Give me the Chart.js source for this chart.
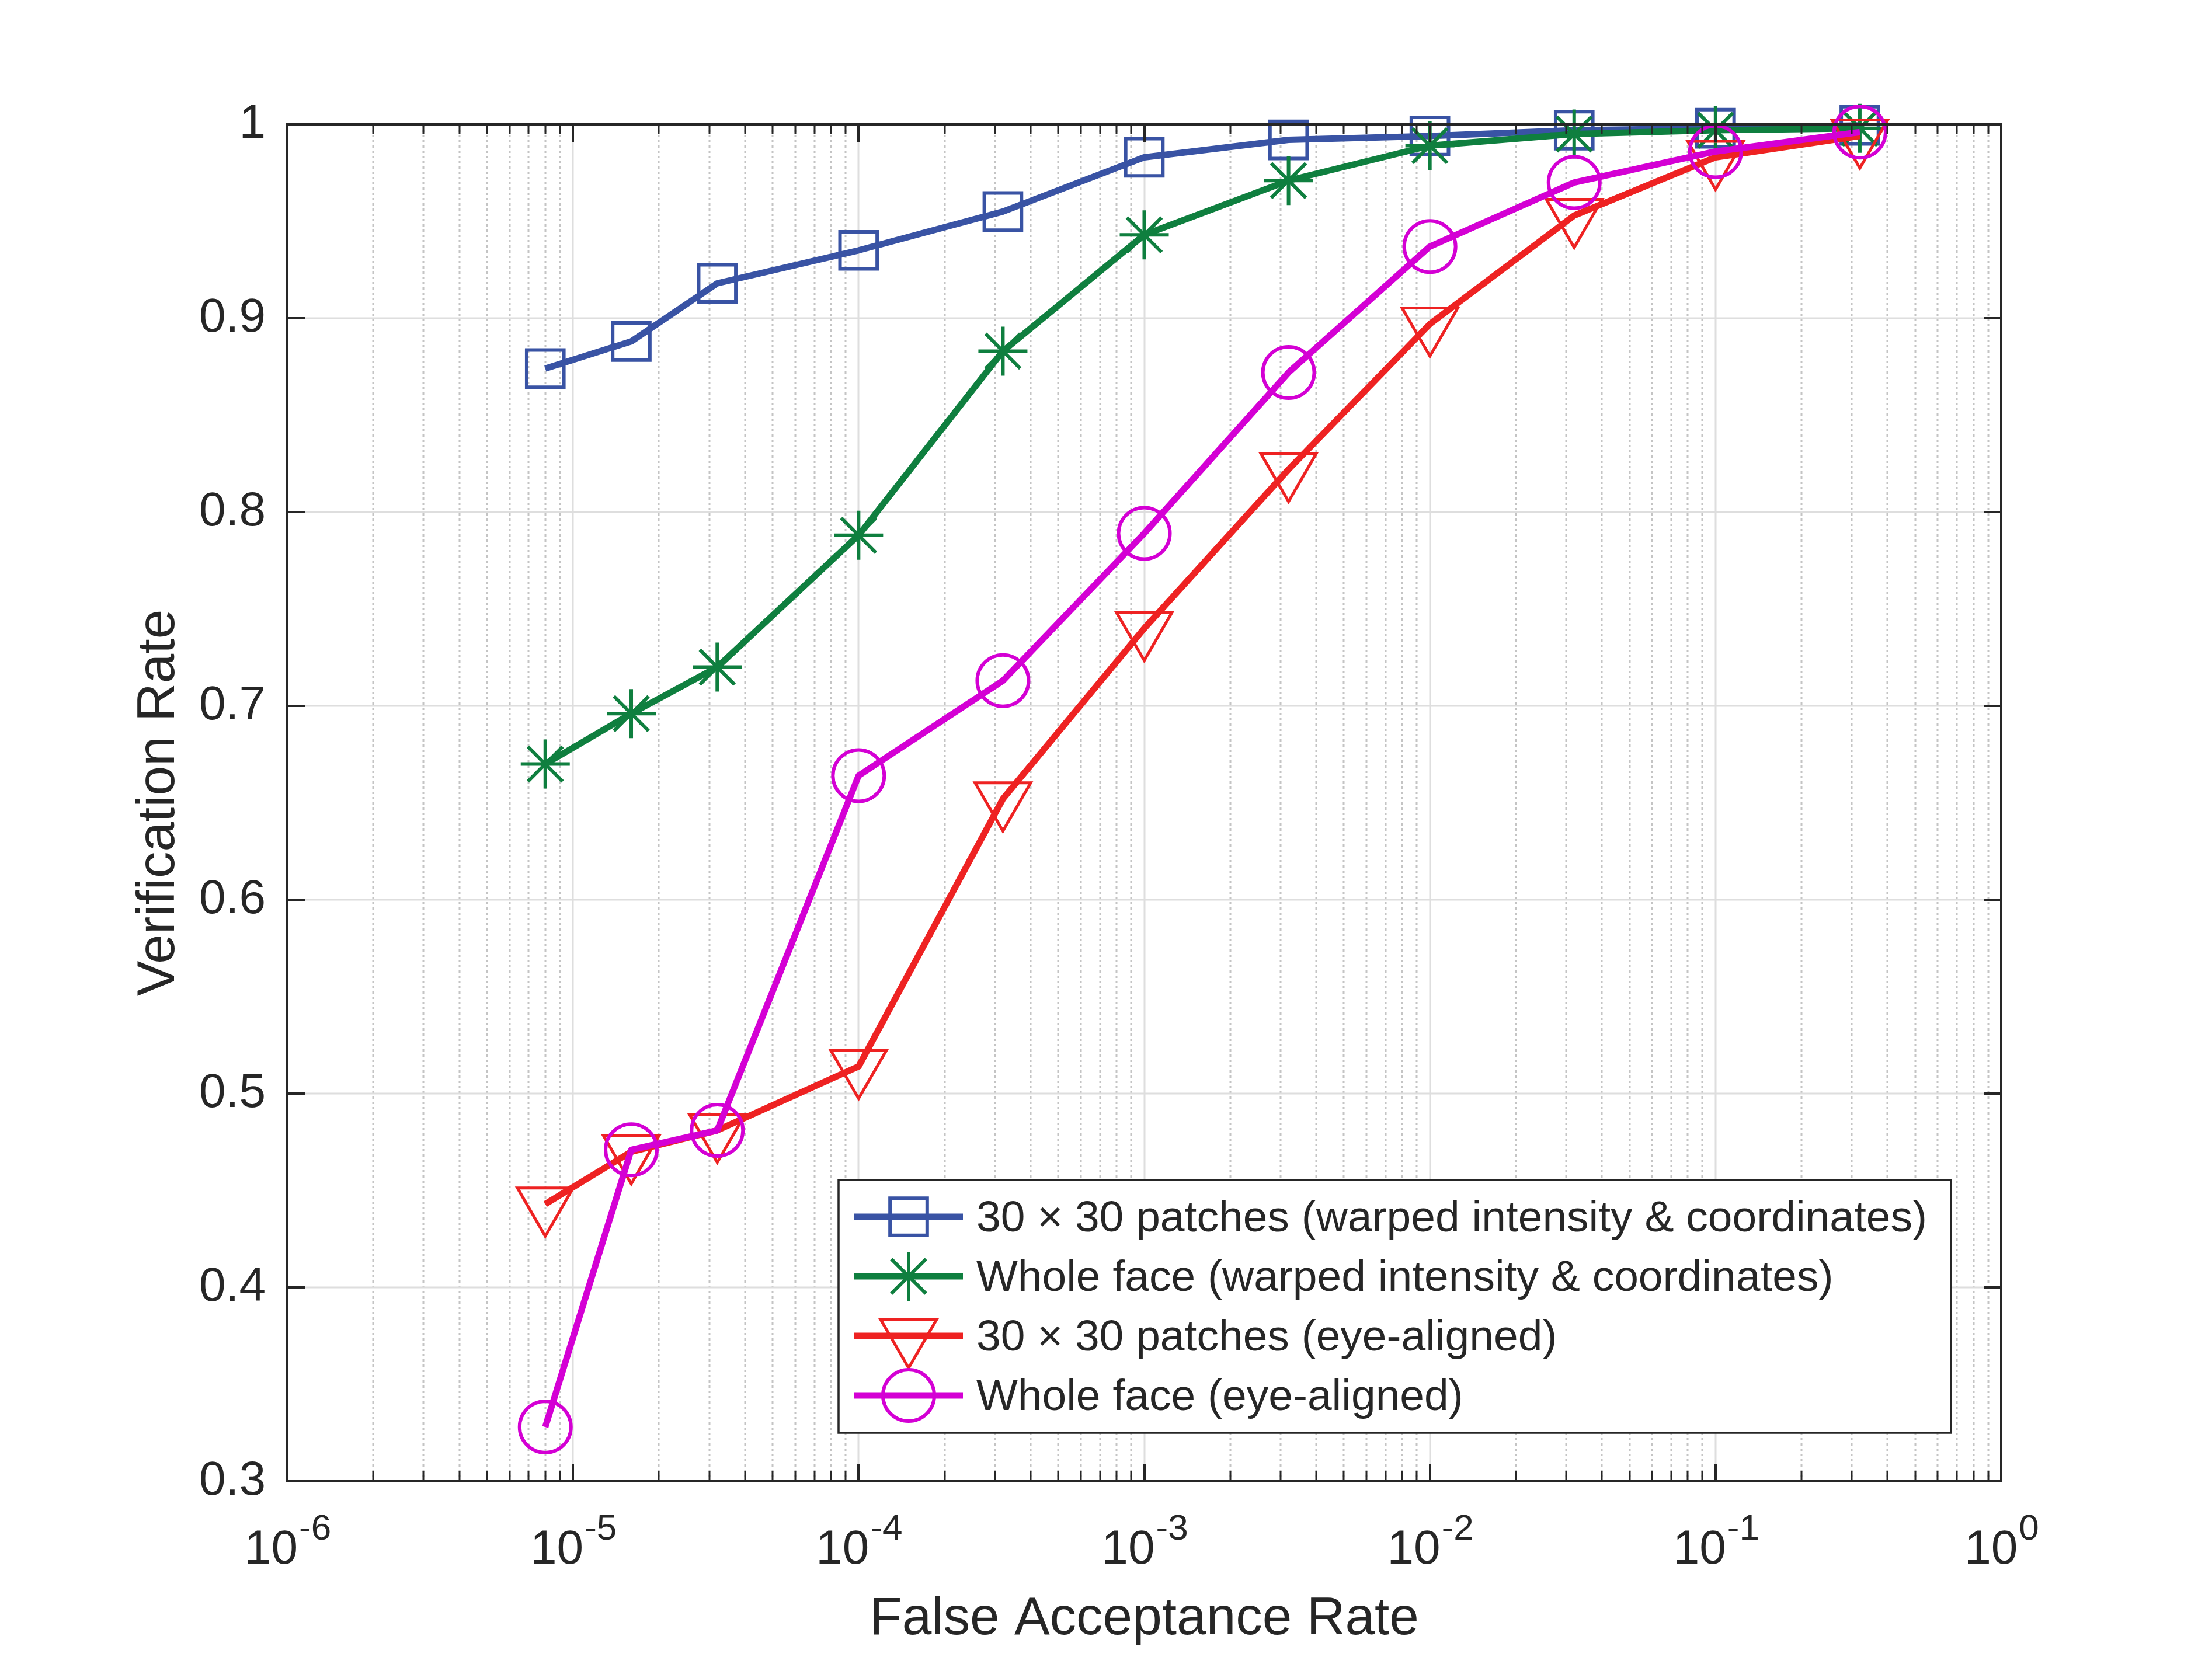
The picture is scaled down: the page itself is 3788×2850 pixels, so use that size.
<!DOCTYPE html>
<html>
<head>
<meta charset="utf-8">
<title>Verification Rate vs False Acceptance Rate</title>
<script src="https://cdn.jsdelivr.net/npm/chart.js@4.4.1/dist/chart.umd.min.js"></script>
<style>
  html, body { margin: 0; padding: 0; background: #ffffff; }
  #roc { display: block; width: 3788px; height: 2850px; }
</style>
</head>
<body>
<canvas id="roc" width="3788" height="2850"></canvas>
<script>
// False acceptance rates where each curve was sampled
const farValues = [8e-6, 1.6e-5, 3.2e-5, 1e-4, 3.2e-4, 1e-3, 3.2e-3, 1e-2, 3.2e-2, 1e-1, 3.2e-1];

// Verification rates, one array per method
const patchesWarped = [0.874, 0.888, 0.918, 0.935, 0.955, 0.983, 0.992, 0.994, 0.997, 0.998, 0.9995];
const wholeWarped   = [0.670, 0.696, 0.720, 0.788, 0.883, 0.943, 0.971, 0.989, 0.995, 0.997, 0.998];
const patchesEye    = [0.443, 0.470, 0.481, 0.514, 0.652, 0.740, 0.822, 0.897, 0.953, 0.983, 0.994];
const wholeEye      = [0.328, 0.471, 0.481, 0.664, 0.713, 0.789, 0.872, 0.937, 0.970, 0.986, 0.996];

const seriesLabels = [
    '30 \u00d7 30 patches (warped intensity & coordinates)',
    'Whole face (warped intensity & coordinates)',
    '30 \u00d7 30 patches (eye-aligned)',
    'Whole face (eye-aligned)'
];

// Axis ticks
const xTickExponents = [-6, -5, -4, -3, -2, -1, 0];
const yTicks = [0.3, 0.4, 0.5, 0.6, 0.7, 0.8, 0.9, 1];

const axisColor = '#262626';
const fontFamily = '"Liberation Sans", Arial, Helvetica, sans-serif';

function toPoints(values) {
    return values.map((v, i) => ({ x: farValues[i], y: v }));
}

const seriesStyles = [
    { color: '#3953a4', pointStyle: 'rect', radius: 45, rotation: 0, pointBorderWidth: 6 },
    { color: '#0f7f3f', pointStyle: 'star', radius: 42, rotation: 0, pointBorderWidth: 6 },
    { color: '#ee2222', pointStyle: 'triangle', radius: 55, rotation: 180, pointBorderWidth: 5 },
    { color: '#d400d4', pointStyle: 'circle', radius: 44, rotation: 0, pointBorderWidth: 6 }
];

const seriesValues = [patchesWarped, wholeWarped, patchesEye, wholeEye];

const datasets = seriesValues.map((vals, i) => {
    const s = seriesStyles[i];
    return {
        label: seriesLabels[i],
        data: toPoints(vals),
        borderColor: s.color,
        backgroundColor: 'rgba(0,0,0,0)',
        borderWidth: 11,
        borderJoinStyle: 'round',
        pointStyle: s.pointStyle,
        pointRadius: s.radius,
        pointRotation: s.rotation,
        pointBorderColor: s.color,
        pointBackgroundColor: 'rgba(0,0,0,0)',
        pointBorderWidth: s.pointBorderWidth,
        tension: 0,
        clip: false,
        // later series end up on top, like the original
        order: 4 - i
    };
});

// Grid, frame, tick marks, log tick labels, axis titles and legend, MATLAB-like
const matlabFrame = {
    id: 'matlabFrame',
    beforeDraw(chart) {
        const ctx = chart.ctx;
        ctx.save();
        ctx.fillStyle = '#ffffff';
        ctx.fillRect(0, 0, chart.width, chart.height);
        ctx.restore();
    },
    beforeDatasetsDraw(chart) {
        const { ctx, chartArea: a, scales: { x, y } } = chart;
        ctx.save();
        ctx.beginPath();
        ctx.rect(a.left, a.top, a.right - a.left, a.bottom - a.top);
        ctx.clip();

        // minor dotted grid on the log axis
        ctx.strokeStyle = '#c4c4c4';
        ctx.lineWidth = 3;
        ctx.setLineDash([4, 5]);
        for (let e = xTickExponents[0]; e < xTickExponents[xTickExponents.length - 1]; e++) {
            for (let k = 2; k <= 9; k++) {
                const px = Math.round(x.getPixelForValue(k * Math.pow(10, e)));
                ctx.beginPath();
                ctx.moveTo(px, a.top);
                ctx.lineTo(px, a.bottom);
                ctx.stroke();
            }
        }

        // major grid
        ctx.setLineDash([]);
        ctx.strokeStyle = '#dedede';
        ctx.lineWidth = 3;
        xTickExponents.forEach(e => {
            const px = Math.round(x.getPixelForValue(Math.pow(10, e)));
            ctx.beginPath();
            ctx.moveTo(px, a.top);
            ctx.lineTo(px, a.bottom);
            ctx.stroke();
        });
        yTicks.forEach(v => {
            const py = Math.round(y.getPixelForValue(v));
            ctx.beginPath();
            ctx.moveTo(a.left, py);
            ctx.lineTo(a.right, py);
            ctx.stroke();
        });
        ctx.restore();
    },
    afterDatasetsDraw(chart) {
        const { ctx, chartArea: a, scales: { x, y } } = chart;
        ctx.save();
        ctx.strokeStyle = axisColor;
        ctx.fillStyle = axisColor;

        // tick marks, pointing inward on all four sides
        ctx.lineWidth = 4;
        const majorLen = 30, minorLen = 17;
        ctx.beginPath();
        xTickExponents.forEach(e => {
            const px = Math.round(x.getPixelForValue(Math.pow(10, e)));
            ctx.moveTo(px, a.bottom); ctx.lineTo(px, a.bottom - majorLen);
            ctx.moveTo(px, a.top); ctx.lineTo(px, a.top + majorLen);
        });
        yTicks.forEach(v => {
            const py = Math.round(y.getPixelForValue(v));
            ctx.moveTo(a.left, py); ctx.lineTo(a.left + majorLen, py);
            ctx.moveTo(a.right, py); ctx.lineTo(a.right - majorLen, py);
        });
        ctx.stroke();
        ctx.lineWidth = 3;
        ctx.beginPath();
        for (let e = xTickExponents[0]; e < xTickExponents[xTickExponents.length - 1]; e++) {
            for (let k = 2; k <= 9; k++) {
                const px = Math.round(x.getPixelForValue(k * Math.pow(10, e)));
                ctx.moveTo(px, a.bottom); ctx.lineTo(px, a.bottom - minorLen);
                ctx.moveTo(px, a.top); ctx.lineTo(px, a.top + minorLen);
            }
        }
        ctx.stroke();

        // axes box
        ctx.lineWidth = 4;
        ctx.strokeRect(a.left, a.top, a.right - a.left, a.bottom - a.top);

        // x tick labels as 10^n
        ctx.textBaseline = 'alphabetic';
        ctx.textAlign = 'left';
        const baseFont = '82px ' + fontFamily;
        const supFont = '62px ' + fontFamily;
        xTickExponents.forEach(e => {
            const px = x.getPixelForValue(Math.pow(10, e));
            const sup = String(e);
            ctx.font = baseFont;
            const wBase = ctx.measureText('10').width;
            ctx.font = supFont;
            const wSup = ctx.measureText(sup).width;
            const start = px - (wBase + wSup) / 2;
            ctx.font = baseFont;
            ctx.fillText('10', start, a.bottom + 141);
            ctx.font = supFont;
            ctx.fillText(sup, start + wBase + 2, a.bottom + 100);
        });

        // axis titles
        ctx.font = '91px ' + fontFamily;
        ctx.textAlign = 'center';
        ctx.fillText('False Acceptance Rate', (a.left + a.right) / 2, a.bottom + 262);
        ctx.save();
        ctx.translate(298, (a.top + a.bottom) / 2);
        ctx.rotate(-Math.PI / 2);
        ctx.fillText('Verification Rate', 0, 0);
        ctx.restore();

        // legend
        const box = { left: 1436, top: 2021, right: 3341, bottom: 2454 };
        ctx.fillStyle = '#ffffff';
        ctx.fillRect(box.left, box.top, box.right - box.left, box.bottom - box.top);
        ctx.lineWidth = 3.5;
        ctx.strokeStyle = axisColor;
        ctx.strokeRect(box.left, box.top, box.right - box.left, box.bottom - box.top);
        ctx.font = '75px ' + fontFamily;
        ctx.textAlign = 'left';
        ctx.textBaseline = 'middle';
        seriesLabels.forEach((label, i) => {
            const s = seriesStyles[i];
            const rowY = 2084 + i * 102;
            ctx.strokeStyle = s.color;
            ctx.lineWidth = 11;
            ctx.beginPath();
            ctx.moveTo(1463, rowY);
            ctx.lineTo(1649, rowY);
            ctx.stroke();
            ctx.fillStyle = 'rgba(0,0,0,0)';
            ctx.lineWidth = s.pointBorderWidth;
            Chart.helpers.drawPoint(ctx, {
                pointStyle: s.pointStyle,
                radius: s.radius,
                rotation: s.rotation,
                borderWidth: s.pointBorderWidth
            }, 1556, rowY);
            ctx.fillStyle = axisColor;
            ctx.fillText(label, 1672, rowY + 4);
        });
        ctx.restore();
    }
};

new Chart(document.getElementById('roc'), {
    type: 'line',
    data: { datasets: datasets },
    options: {
        responsive: false,
        animation: false,
        devicePixelRatio: 1,
        layout: { padding: { left: 0, top: 213, right: 361, bottom: 0 } },
        plugins: {
            legend: { display: false },
            tooltip: { enabled: false }
        },
        scales: {
            x: {
                type: 'logarithmic',
                min: 1e-6,
                max: 1,
                grid: { display: false, drawTicks: false },
                border: { display: false },
                ticks: { display: false },
                afterFit: scale => { scale.height = 313; }
            },
            y: {
                type: 'linear',
                min: 0.3,
                max: 1,
                afterBuildTicks: scale => { scale.ticks = yTicks.map(v => ({ value: v })); },
                grid: { display: false, drawTicks: false },
                border: { display: false },
                ticks: {
                    color: axisColor,
                    padding: 37,
                    font: { family: fontFamily, size: 82 },
                    callback: value => String(value)
                },
                afterFit: scale => { scale.width = 492; }
            }
        }
    },
    plugins: [matlabFrame]
});
</script>
</body>
</html>
